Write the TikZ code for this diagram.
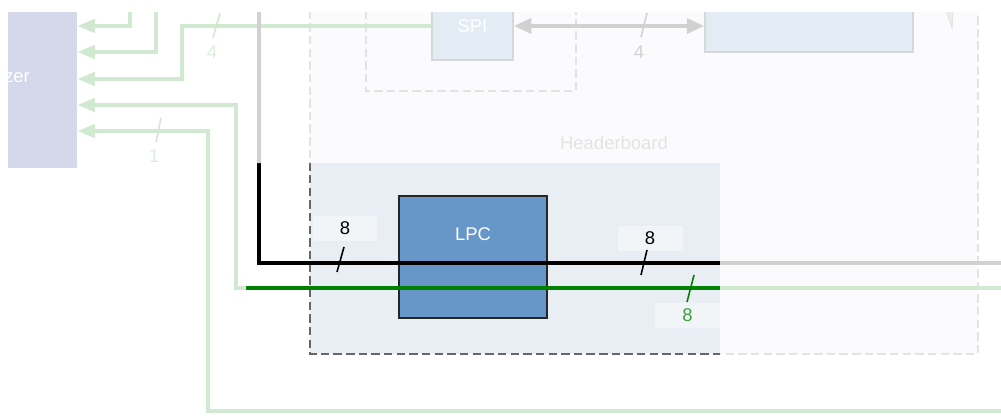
\documentclass[tikz,border=0pt]{standalone}
\usepackage{fontspec}
\setmainfont{Liberation Sans}
\usetikzlibrary{arrows.meta}

\definecolor{chipblue}{RGB}{102,151,200}
\definecolor{boardfill}{RGB}{233,237,244}
\definecolor{anafill}{RGB}{27,38,144}
\definecolor{sigreen}{RGB}{0,128,0}
\definecolor{labgreen}{RGB}{60,160,60}

\tikzset{
  chip/.style={draw=black!85, line width=0.8pt, fill=chipblue, text=white, inner sep=0pt},
  sig/.style={sigreen, line width=2.1pt},
  bus/.style={black, line width=1.9pt},
  slash/.style={line width=0.9pt},
  buslabel/.style={fill=white, fill opacity=0.45, text opacity=1, minimum width=1.3cm, minimum height=0.5cm, inner sep=0pt},
  boardline/.style={black!60, line width=1.1pt, dash pattern=on 4.8pt off 2.4pt},
  sigtip/.style={-{Triangle[length=10pt,width=7.5pt]}},
  duplex/.style={black, line width=2.2pt, {Triangle[length=10pt,width=8.5pt]}-{Triangle[length=10pt,width=8.5pt]}},
}

\begin{document}
\begin{tikzpicture}[x=0.02cm, y=-0.02cm, font=\fontsize{10.5}{12}\selectfont]
\useasboundingbox (0,0) rectangle (1001,419);
\begin{scope}
\clip (8,12) rectangle (1001,419);
% headerboard area
\draw[boardline, fill=boardfill] (310,-40) rectangle (978,354);
\node[black!60] (hblabel) at (614,143) {Headerboard};
\draw[boardline] (366,-40) rectangle (576,91);

% blocks
\node[fill=anafill, text=white, minimum width=3.32cm, minimum height=3.6cm, inner sep=0pt] (analyzer) at (-6,78) {Analyzer};
\node[chip, minimum width=1.62cm, minimum height=1.36cm] (spi) at (472.5,26) {SPI};
\node[chip, minimum width=4.16cm, minimum height=1.84cm] (host) at (809,6) {};
\node[chip, minimum width=2.96cm, minimum height=2.44cm, text depth=26pt] (lpc) at (473,257) {LPC};

% wires to the analyzer
\coordinate (busin) at (259,0);
\coordinate (busout) at (1010,263);
\coordinate (gpin) at (1010,288);
\coordinate (rstin) at (1010,411);
\draw[sig, sigtip] (130,0) |- (analyzer.east |- 0,26);
\draw[sig, sigtip] (156,0) |- (analyzer.east |- 0,52);
\draw[sig, sigtip] (spi.west) -| (182,79) -- (analyzer.east |- 0,79);
\draw[sig, sigtip] (gpin) -- (236,288) |- (analyzer.east |- 0,105);
\draw[sig, sigtip] (rstin) -| (208,131) -- (analyzer.east |- 0,131);
\draw[bus] (busin) |- (busout);
\draw[duplex] (spi.east) -- (host.west |- spi.east);

% bus widths
\draw[sigreen, slash] (213,38) -- (220,13);
\node[labgreen] (wspi) at (212,52) {4};
\draw[sigreen, slash] (156,142) -- (161,118);
\node[labgreen] (wrst) at (154,156) {1};
\draw[slash] (641,37) -- (647,13);
\node (whost) at (639,52) {4};
\node[buslabel] (lpcin) at (345,228) {8};
\draw[slash] (337,272) -- (344,247);
\node[buslabel] (lpcout) at (650,238.5) {8};
\draw[slash] (641,275) -- (647,250);
\node[buslabel, text=labgreen] (lpcgp) at (687.5,315) {8};
\draw[sigreen, slash] (687,302) -- (694,275);

\filldraw[fill=black!40, draw=black!70] (941,-5) -- (954,-5) -- (952,28) -- cycle;
\end{scope}
% fade all but the LPC part
\fill[white, fill opacity=0.82, even odd rule] (0,0) rectangle (1001,419) (246,163) rectangle (720,380);
\end{tikzpicture}
\end{document}
